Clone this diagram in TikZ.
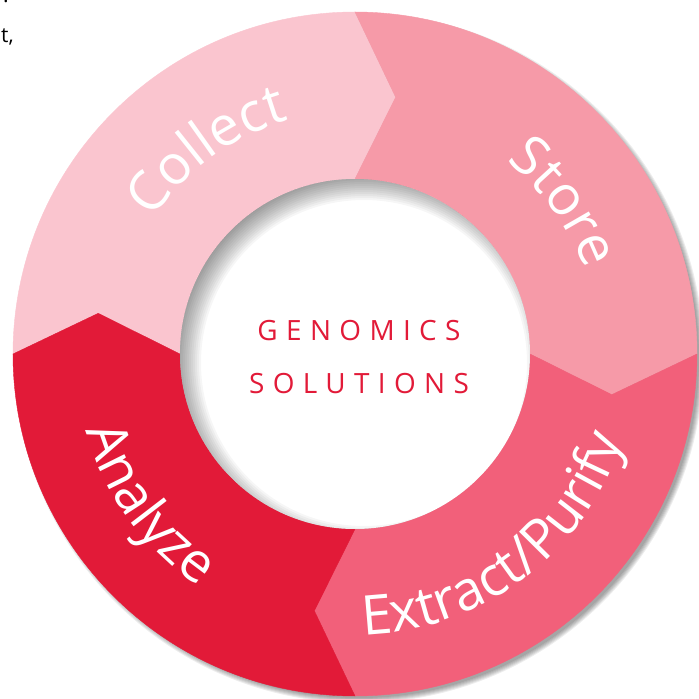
\documentclass[tikz,border=0pt]{standalone}
\usepackage{fontspec}
\setmainfont{Open Sans}
\newfontfamily\spacedfont[LetterSpace=30]{Open Sans}
\usetikzlibrary{decorations.text}
\definecolor{collectpink}{HTML}{FAC5CF}
\definecolor{storepink}{HTML}{F69AA8}
\definecolor{extractpink}{HTML}{F2607A}
\definecolor{analyzered}{HTML}{E21A38}
\newcommand{\ringfont}{\fontsize{55}{62}\selectfont\color{white}}

\begin{document}
\begin{tikzpicture}[x=1bp, y=1bp, every node/.style={inner sep=0pt}]
    \def\rin{175}
    \def\rout{342}
    \def\rmid{260}
    \def\tip{9}
    \useasboundingbox (-355,-345) rectangle (344,354);

    % soft shadow under the ring
    \foreach \k in {1,...,6} {
        \fill[black, opacity=0.07] (4,-4) circle ({\rout-3+\k});
    }

    % the four arrow segments
    \foreach \a/\col in {180/collectpink, 90/storepink, 0/extractpink, -90/analyzered} {
        \pgfmathsetmacro{\b}{\a-90}
        \fill[\col, draw=\col, line width=0.4bp] (\a:\rout) arc[start angle=\a, end angle=\b, radius=\rout]
            -- (\b-\tip:\rmid) -- (\b:\rin) arc[start angle=\b, end angle=\a, radius=\rin]
            -- (\a-\tip:\rmid) -- cycle;
    }

    % hole with its inner shadow
    \fill[white] (0,0) circle (\rin);
    \begin{scope}
        \clip (0,0) circle (\rin);
        \foreach \k in {0,...,13} {
            \draw[black, opacity=0.035, line width=120bp] (9,-9) circle ({\rin-12+2*\k+60});
        }
    \end{scope}

    % labels along the ring
    \path[decorate, decoration={text along path, text align=center, text={|\ringfont|Collect}}]
        (172:243) arc[start angle=172, end angle=80, radius=243];
    \path[decorate, decoration={text along path, text align=center, text={|\ringfont|Store}}]
        (82:245) arc[start angle=82, end angle=-10, radius=245];
    \path[decorate, decoration={text along path, text align=center, text={|\ringfont|Extract/Purify}}]
        (-120:281) arc[start angle=-120, end angle=14, radius=281];
    \path[decorate, decoration={text along path, text align=center, text={|\ringfont|Analyze}}]
        (166:280) arc[start angle=166, end angle=266, radius=280];

    % centre title
    \node[anchor=base, text=analyzered, font=\spacedfont\fontsize{28}{34}\selectfont] (genomics) at (4,13) {GENOMICS};
    \node[anchor=base, text=analyzered, font=\spacedfont\fontsize{28}{34}\selectfont] (solutions) at (4,-40) {SOLUTIONS};

    % cropped body text at the corner
    \node[anchor=base west, font=\fontsize{21}{25}\selectfont] (bodydot) at (-352,351) {.};
    \node[anchor=base west, font=\fontsize{21}{25}\selectfont] (bodyt) at (-354,311) {t,};
\end{tikzpicture}
\end{document}
